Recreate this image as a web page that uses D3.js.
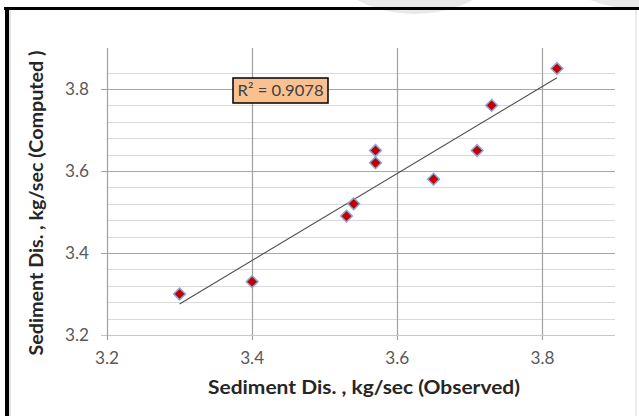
<!DOCTYPE html>
<html>
<head>
<meta charset="utf-8">
<script src="https://cdn.jsdelivr.net/npm/d3@7/dist/d3.min.js"></script>
<style>
  html, body { margin: 0; padding: 0; background: #fff; }
  svg { display: block; }
  text { font-family: Lato, "Open Sans", "DejaVu Sans", sans-serif; }
</style>
</head>
<body>
<svg id="chart" width="639" height="416"></svg>
<script>
// ---- data ----
const observed = [3.30, 3.40, 3.53, 3.54, 3.57, 3.57, 3.65, 3.71, 3.73, 3.82];
const computed = [3.30, 3.33, 3.49, 3.52, 3.65, 3.62, 3.58, 3.65, 3.76, 3.85];
const xTicks = [3.2, 3.4, 3.6, 3.8];
const yTicks = [3.2, 3.4, 3.6, 3.8];
const xDomain = [3.2, 3.9];
const yDomain = [3.2, 3.9];
const minorStep = 0.04;
const rSquaredLabel = "R² = 0.9078";
const xTitle = "Sediment Dis. , kg/sec (Observed)";
const yTitle = "Sediment Dis. , kg/sec (Computed )";

const svg = d3.select("#chart");

// faint watermark shapes at the top
svg.append("ellipse").attr("cx", 415).attr("cy", -62).attr("rx", 100).attr("ry", 76).attr("fill", "#e9e9e9");
svg.append("ellipse").attr("cx", 640).attr("cy", -45).attr("rx", 90).attr("ry", 54).attr("fill", "#e9e9e9");

// outer frame
svg.append("line").attr("x1", 4).attr("x2", 639).attr("y1", 8.5).attr("y2", 8.5).attr("stroke", "#000").attr("stroke-width", 3);
svg.append("line").attr("x1", 7).attr("x2", 7).attr("y1", 7).attr("y2", 416).attr("stroke", "#000").attr("stroke-width", 4);
svg.append("line").attr("x1", 10).attr("x2", 10).attr("y1", 10).attr("y2", 416).attr("stroke", "#c8c8c8").attr("stroke-width", 1);
svg.append("line").attr("x1", 636).attr("x2", 636).attr("y1", 10).attr("y2", 416).attr("stroke", "#d8d8d8").attr("stroke-width", 1);

const x = d3.scaleLinear().domain(xDomain).range([107, 615]);
const y = d3.scaleLinear().domain(yDomain).range([335, 48]);

const g = svg.append("g");

// minor horizontal gridlines
const minorVals = d3.range(0, Math.round((yDomain[1] - yDomain[0]) / minorStep))
  .map(i => +(yDomain[0] + i * minorStep).toFixed(2))
  .filter(v => v > yDomain[0] && !yTicks.some(t => Math.abs(t - v) < 1e-6));
g.selectAll("line.minor").data(minorVals).join("line")
  .attr("class", "minor")
  .attr("x1", x(xDomain[0])).attr("x2", x(xDomain[1]))
  .attr("y1", d => Math.round(y(d)) + 0.5).attr("y2", d => Math.round(y(d)) + 0.5)
  .attr("stroke", "#d9d9d9").attr("stroke-width", 1.2);

// major horizontal gridlines (with outward tick)
g.selectAll("line.majorY").data(yTicks.filter(v => v > yDomain[0])).join("line")
  .attr("class", "majorY")
  .attr("x1", x(xDomain[0]) - 6).attr("x2", x(xDomain[1]))
  .attr("y1", d => Math.round(y(d)) + 0.5).attr("y2", d => Math.round(y(d)) + 0.5)
  .attr("stroke", "#a6a6a6").attr("stroke-width", 1.2);

// vertical gridlines (with outward tick)
g.selectAll("line.majorX").data(xTicks.filter(v => v > xDomain[0])).join("line")
  .attr("class", "majorX")
  .attr("x1", d => Math.round(x(d)) + 0.5).attr("x2", d => Math.round(x(d)) + 0.5)
  .attr("y1", y(yDomain[1])).attr("y2", y(yDomain[0]) + 5)
  .attr("stroke", "#a0a0a0").attr("stroke-width", 1.2);

// x axis line
g.append("line")
  .attr("x1", x(xDomain[0]) - 6).attr("x2", x(xDomain[1]))
  .attr("y1", Math.round(y(yDomain[0])) + 0.5).attr("y2", Math.round(y(yDomain[0])) + 0.5)
  .attr("stroke", "#c6c6c6").attr("stroke-width", 1.2);
// y axis line
g.append("line")
  .attr("x1", Math.round(x(xDomain[0])) + 0.5).attr("x2", Math.round(x(xDomain[0])) + 0.5)
  .attr("y1", y(yDomain[1])).attr("y2", y(yDomain[0]) + 5)
  .attr("stroke", "#a0a0a0").attr("stroke-width", 1.2);

// tick labels
g.selectAll("text.yl").data(yTicks).join("text")
  .attr("class", "yl")
  .attr("x", 89).attr("y", d => y(d)).attr("dy", "0.36em")
  .attr("text-anchor", "end").attr("font-size", 16.5).attr("fill", "#595959")
  .attr("textLength", 24).attr("lengthAdjust", "spacingAndGlyphs")
  .text(d => d3.format(".1f")(d));
g.selectAll("text.xl").data(xTicks).join("text")
  .attr("class", "xl")
  .attr("x", d => x(d)).attr("y", 358).attr("dy", "0.36em")
  .attr("text-anchor", "middle").attr("font-size", 16.5).attr("fill", "#595959")
  .attr("textLength", 24).attr("lengthAdjust", "spacingAndGlyphs")
  .text(d => d3.format(".1f")(d));

// axis titles
svg.append("text").attr("x", 364).attr("y", 387).attr("dy", "0.36em")
  .attr("text-anchor", "middle").attr("font-size", 19).attr("font-weight", "bold").attr("fill", "#262626")
  .attr("textLength", 312).attr("lengthAdjust", "spacingAndGlyphs")
  .text(xTitle);
svg.append("text").attr("transform", "translate(36,203) rotate(-90)").attr("dy", "0.36em")
  .attr("text-anchor", "middle").attr("font-size", 19).attr("font-weight", "bold").attr("fill", "#262626")
  .attr("textLength", 305).attr("lengthAdjust", "spacingAndGlyphs")
  .text(yTitle);

// linear trendline (least squares)
const n = observed.length;
const mx = d3.mean(observed), my = d3.mean(computed);
let sxy = 0, sxx = 0;
for (let i = 0; i < n; i++) { sxy += (observed[i] - mx) * (computed[i] - my); sxx += (observed[i] - mx) ** 2; }
const slope = sxy / sxx, icpt = my - slope * mx;
const xExt = d3.extent(observed);
g.append("line")
  .attr("x1", x(xExt[0])).attr("y1", y(slope * xExt[0] + icpt))
  .attr("x2", x(xExt[1])).attr("y2", y(slope * xExt[1] + icpt))
  .attr("stroke", "#4d4d4d").attr("stroke-width", 1.1);

// diamond markers
const pts = observed.map((v, i) => [v, computed[i]]);
const diamond = d3.symbol().type(d3.symbolDiamond2).size(88);
g.selectAll("path.pt").data(pts).join("path")
  .attr("class", "pt")
  .attr("transform", d => `translate(${x(d[0])},${y(d[1])})`)
  .attr("d", diamond)
  .attr("fill", "#c00000").attr("stroke", "#8aa6d6").attr("stroke-width", 1.5);

// R² label box
const lbl = svg.append("g").attr("transform", "translate(233,78)");
lbl.append("rect").attr("width", 95).attr("height", 25)
  .attr("fill", "#fac090").attr("stroke", "#000").attr("stroke-width", 1.5);
lbl.append("text").attr("x", 47.5).attr("y", 12.5).attr("dy", "0.36em")
  .attr("text-anchor", "middle").attr("font-size", 16).attr("fill", "#404040")
  .attr("textLength", 86).attr("lengthAdjust", "spacingAndGlyphs")
  .text(rSquaredLabel);
</script>
</body>
</html>
